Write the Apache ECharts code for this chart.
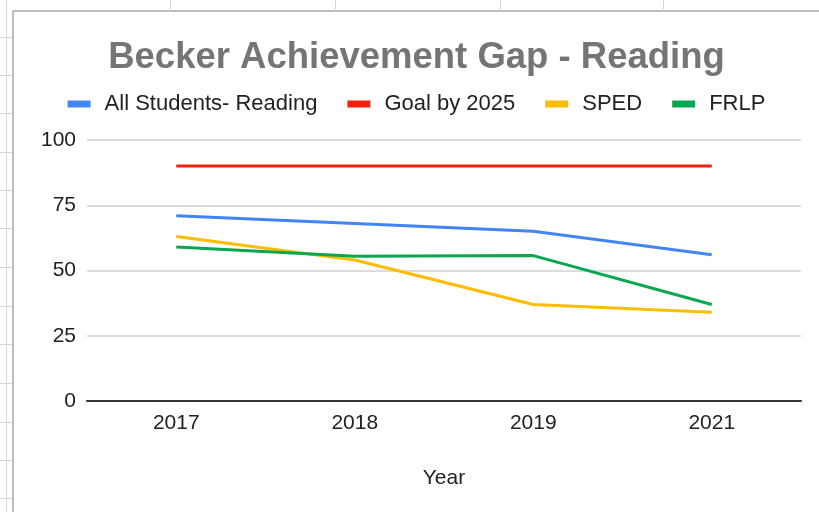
<!DOCTYPE html>
<html>
<head>
<meta charset="utf-8">
<script src="https://cdn.jsdelivr.net/npm/echarts@6/dist/echarts.min.js"></script>
<style>
  html, body { margin: 0; padding: 0; background: #fff; }
  body { width: 819px; height: 512px; position: relative; overflow: hidden; }
  .vline { position: absolute; top: 0; width: 1px; height: 11px; background: #d6d6d6; }
  .hline { position: absolute; left: 0; width: 12px; height: 1px; background: #d6d6d6; }
  #sheetCol { position: absolute; left: 6px; top: 0; width: 1px; height: 512px; background: #d6d6d6; }
  #chart {
    position: absolute; left: 12px; top: 10px;
    width: 807px; height: 502px;
    border-left: 2px solid #bdbdbd; border-top: 2px solid #bdbdbd;
    box-sizing: border-box; background: #fff;
  }
</style>
</head>
<body>
<div id="sheetCol"></div>
<div id="chart"></div>
<script>
// Becker Achievement Gap - Reading

// chart data
const years = ['2017', '2018', '2019', '2021'];
const allStudents = [71, 68, 65, 56];
const goal2025 = [90, 90, 90, 90];
const sped = [63, 54, 37, 34];
const frlp = [59, 55.5, 55.7, 37];
const yTicks = { min: 0, max: 100, step: 25 };

// spreadsheet grid behind the chart card
const sheetCols = [170, 335, 500, 663];
const sheetRows = [37, 75, 113, 152, 190, 228, 267, 306, 344, 383, 422, 460, 498];
sheetCols.forEach(x => {
    const d = document.createElement('div');
    d.className = 'vline';
    d.style.left = x + 'px';
    document.body.appendChild(d);
});
sheetRows.forEach(y => {
    const d = document.createElement('div');
    d.className = 'hline';
    d.style.top = y + 'px';
    document.body.appendChild(d);
});

const font = '"Liberation Sans", Arial, Helvetica, sans-serif';
const chart = echarts.init(document.getElementById('chart'));

function lineSeries(name, data, color) {
    return {
        name: name,
        type: 'line',
        data: data,
        showSymbol: false,
        symbol: 'none',
        lineStyle: { color: color, width: 3 },
        itemStyle: { color: color },
        emphasis: { disabled: true },
        animation: false
    };
}

chart.setOption({
    animation: false,
    textStyle: { fontFamily: font },
    title: {
        text: 'Becker Achievement Gap - Reading',
        left: 'center',
        top: 22,
        textStyle: { fontSize: 36.5, fontWeight: 'bold', color: '#757575', fontFamily: font }
    },
    legend: {
        left: 'center',
        top: 76,
        itemWidth: 23,
        itemHeight: 7,
        itemGap: 30,
        icon: 'rect',
        textStyle: { fontSize: 22, color: '#222', fontFamily: font, padding: [0, 0, 0, 9] },
        data: ['All Students- Reading', 'Goal by 2025', 'SPED', 'FRLP']
    },
    grid: { left: 73, right: 18, top: 128, bottom: 111, containLabel: false },
    xAxis: {
        type: 'category',
        data: years,
        boundaryGap: true,
        name: 'Year',
        nameLocation: 'middle',
        nameGap: 67,
        nameTextStyle: { fontSize: 21, color: '#222', fontFamily: font },
        axisLine: { lineStyle: { color: '#333', width: 2 } },
        axisTick: { show: false },
        axisLabel: { fontSize: 21, color: '#222', margin: 12, fontFamily: font }
    },
    yAxis: {
        type: 'value',
        min: yTicks.min,
        max: yTicks.max,
        interval: yTicks.step,
        axisLine: { show: false },
        axisTick: { show: false },
        axisLabel: { fontSize: 21, color: '#222', margin: 11, fontFamily: font },
        splitLine: { lineStyle: { color: '#d0d0d0', width: 1.5 } }
    },
    series: [
        lineSeries('All Students- Reading', allStudents, '#4285F4'),
        lineSeries('Goal by 2025', goal2025, '#F4210E'),
        lineSeries('SPED', sped, '#FBBC04'),
        lineSeries('FRLP', frlp, '#0BA650')
    ]
});

window.addEventListener('resize', function() {
    chart.resize();
});
</script>
</body>
</html>
